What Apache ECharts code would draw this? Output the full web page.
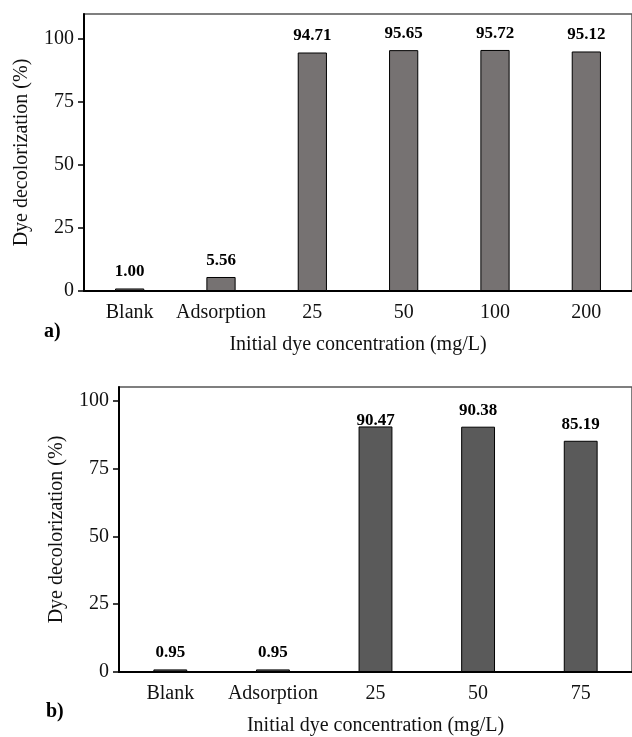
<!DOCTYPE html>
<html>
<head>
<meta charset="utf-8">
<script src="https://cdn.jsdelivr.net/npm/echarts@6/dist/echarts.min.js"></script>
<style>
  html, body { margin: 0; padding: 0; background: #fff; }
  #main { width: 632px; height: 737px; }
</style>
</head>
<body>
<div id="main"></div>
<script>
// 数据
const catsA = ['Blank', 'Adsorption', '25', '50', '100', '200']
const valsA = [1.00, 5.56, 94.71, 95.65, 95.72, 95.12]
const catsB = ['Blank', 'Adsorption', '25', '50', '75']
const valsB = [0.95, 0.95, 90.47, 90.38, 85.19]
const yTicks = [0, 25, 50, 75, 100]

const font = '"Liberation Serif", "Times New Roman", serif'

// 通用坐标轴
const xAxisBase = {
  type: 'category',
  name: 'Initial dye concentration (mg/L)',
  nameLocation: 'middle',
  nameGap: 44,
  nameTextStyle: { fontFamily: font, fontSize: 20, color: '#111' },
  axisLine: { lineStyle: { color: '#000', width: 2 } },
  axisTick: { length: 5, interval: 0, lineStyle: { color: '#000', width: 1.5 } },
  axisLabel: { fontFamily: font, fontSize: 20, color: '#111', margin: 12, interval: 0 }
}

const yAxisBase = {
  type: 'value',
  min: 0,
  name: 'Dye decolorization (%)',
  nameLocation: 'middle',
  nameGap: 52,
  nameTextStyle: { fontFamily: font, fontSize: 20, color: '#111' },
  splitLine: { show: false },
  axisLine: { show: true, lineStyle: { color: '#000', width: 2 } },
  axisTick: { show: true, length: 6, customValues: yTicks, lineStyle: { color: '#000', width: 1.5 } },
  axisLabel: { fontFamily: font, fontSize: 20, color: '#111', margin: 10, customValues: yTicks }
}

const valueLabel = {
  show: true,
  position: 'top',
  distance: 8,
  fontFamily: font,
  fontSize: 17,
  fontWeight: 'bold',
  color: '#000',
  formatter: p => p.value.toFixed(2)
}

const option = {
  backgroundColor: '#fff',
  animation: false,
  grid: [
    { left: 84, top: 14, right: 0, bottom: 446, show: true, borderColor: '#555', borderWidth: 1.5 },
    { left: 119, top: 387, right: 0, bottom: 65, show: true, borderColor: '#555', borderWidth: 1.5 }
  ],
  xAxis: [
    Object.assign({}, xAxisBase, { gridIndex: 0, data: catsA }),
    Object.assign({}, xAxisBase, {
      gridIndex: 1, data: catsB,
      axisTick: { length: 5, interval: 0, alignWithLabel: true, lineStyle: { color: '#000', width: 1.5 } }
    })
  ],
  yAxis: [
    Object.assign({}, yAxisBase, { gridIndex: 0, max: 110 }),
    Object.assign({}, yAxisBase, { gridIndex: 1, max: 105 })
  ],
  series: [
    {
      type: 'bar',
      xAxisIndex: 0,
      yAxisIndex: 0,
      barWidth: '32%',
      data: valsA,
      itemStyle: { color: '#767272', borderColor: '#000', borderWidth: 1 },
      label: valueLabel
    },
    {
      type: 'bar',
      xAxisIndex: 1,
      yAxisIndex: 1,
      barWidth: '33%',
      // 第三个标签贴近柱顶
      data: valsB.map((v, i) => i === 2 ? { value: v, label: { distance: -3 } } : v),
      itemStyle: { color: '#5a5a5a', borderColor: '#000', borderWidth: 1 },
      label: valueLabel
    }
  ],
  graphic: [
    { type: 'text', left: 44, top: 322, style: { text: 'a)', font: 'bold 20px ' + font, fill: '#000' } },
    { type: 'text', left: 46, top: 702, style: { text: 'b)', font: 'bold 20px ' + font, fill: '#000' } }
  ]
}

const chart = echarts.init(document.getElementById('main'))
chart.setOption(option)
</script>
</body>
</html>
